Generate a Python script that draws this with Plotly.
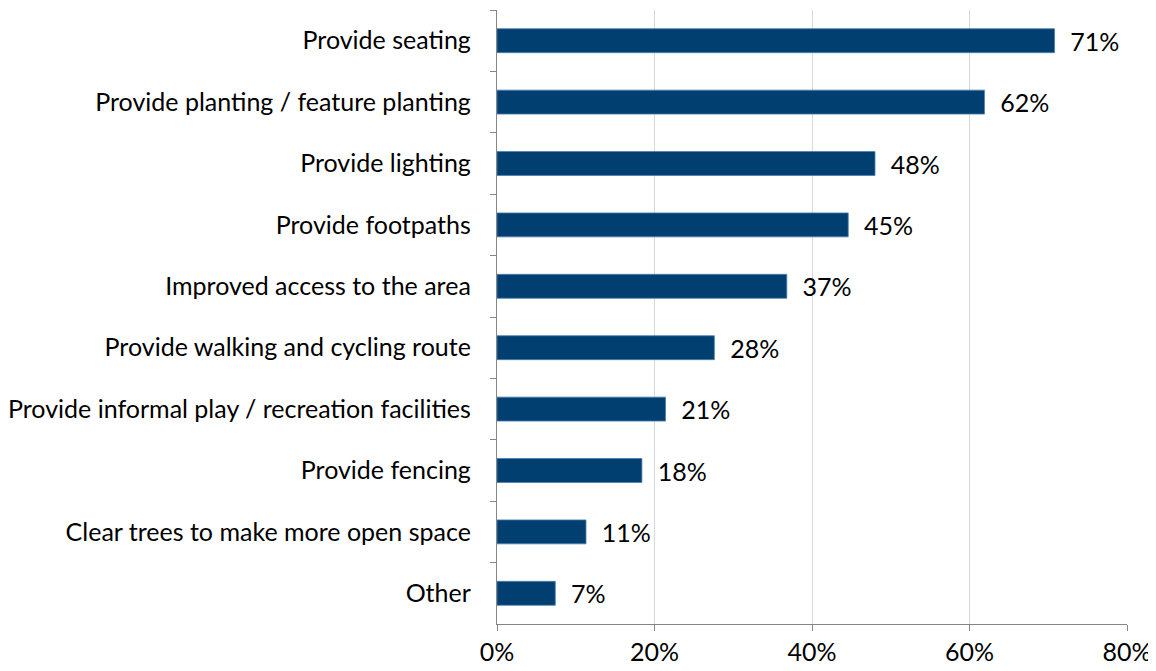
import plotly.graph_objects as go

categories = [
    "Provide seating",
    "Provide planting / feature planting",
    "Provide lighting",
    "Provide footpaths",
    "Improved access to the area",
    "Provide walking and cycling route",
    "Provide informal play / recreation facilities",
    "Provide fencing",
    "Clear trees to make more open space",
    "Other",
]
values = [70.8, 61.9, 48.0, 44.6, 36.8, 27.6, 21.4, 18.4, 11.3, 7.4]
x_ticks = [0, 20, 40, 60, 80]
x_tick_labels = ["0%", "20%", "40%", "60%", "80%"]

FONT = "Lato"
FS = 25

fig = go.Figure(
    go.Bar(
        x=values,
        y=categories,
        orientation="h",
        marker=dict(color="#003f6f", line=dict(color="#4a7fb0", width=0.8)),
        text=[f"  {round(v)}%" for v in values],
        textposition="outside",
        constraintext="none",
        textfont=dict(family=FONT, size=FS, color="#000000"),
        cliponaxis=False,
        width=0.39,
    )
)

fig.update_layout(
    width=1148,
    height=663,
    margin=dict(l=489, r=29, t=2, b=47, autoexpand=False),
    plot_bgcolor="white",
    paper_bgcolor="white",
    showlegend=False,
    font=dict(family=FONT, size=FS, color="#000000"),
)

fig.update_xaxes(
    range=[0, 80],
    tickvals=x_ticks,
    ticktext=x_tick_labels,
    showgrid=True,
    gridcolor="#d9d9d9",
    gridwidth=1.3,
    showline=True,
    linecolor="#868686",
    linewidth=1.3,
    ticks="outside",
    ticklen=6,
    tickcolor="#868686",
    zeroline=False,
    automargin=False,
    tickfont=dict(family=FONT, size=FS, color="#000000"),
)

fig.update_yaxes(
    autorange="reversed",
    showline=True,
    linecolor="#868686",
    linewidth=1.3,
    ticks="outside",
    tickson="boundaries",
    ticklen=6,
    tickcolor="#868686",
    showgrid=False,
    automargin=False,
    ticklabelstandoff=20,
    tickfont=dict(family=FONT, size=FS, color="#000000"),
)

fig.write_html("out.html")
